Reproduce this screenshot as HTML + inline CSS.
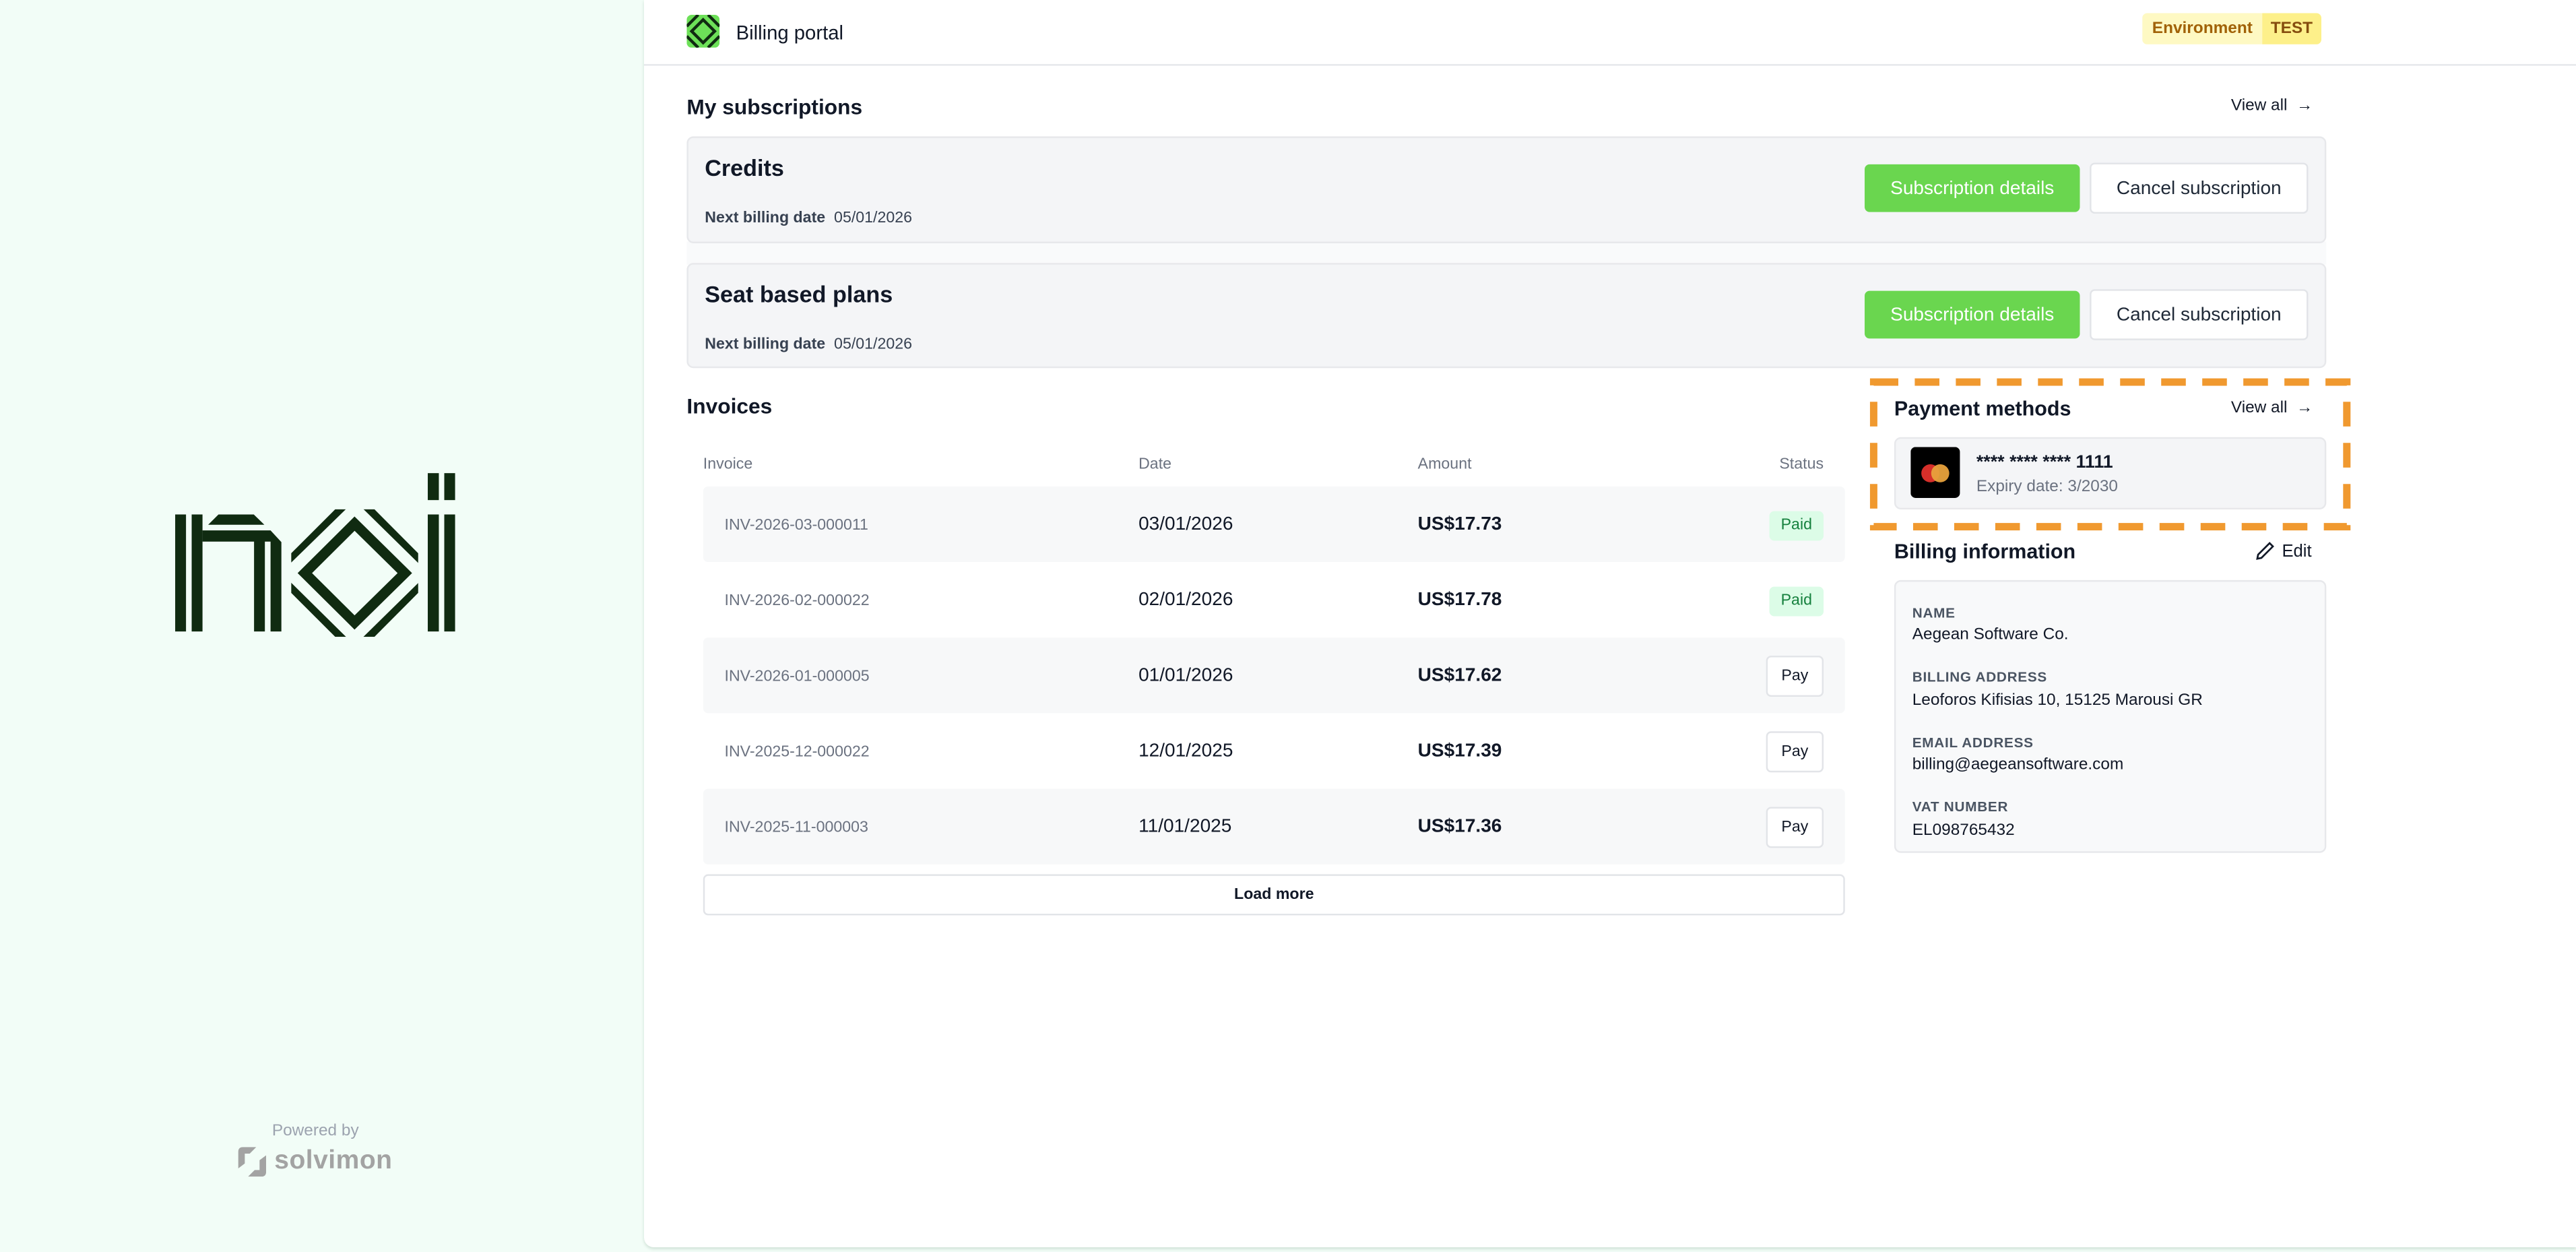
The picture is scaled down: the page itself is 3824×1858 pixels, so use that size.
<!DOCTYPE html>
<html><head><meta charset="utf-8"><style>
html,body{margin:0;padding:0;width:3824px;height:1858px;overflow:hidden;background:#f2fdf7;font-family:"Liberation Sans",sans-serif;color:#111827}
#root{position:absolute;left:0;top:0;width:1568px;height:762px;transform:scale(2.43878);transform-origin:0 0}
.a{position:absolute;white-space:nowrap}
.t{position:absolute;white-space:nowrap;line-height:1;transform:translateY(-50%)}
.card{position:absolute;background:#f4f5f7;border:1px solid #e7e8eb;border-radius:4px;box-sizing:border-box}
.btn-g{position:absolute;background:#6ad64f;color:#fff;border-radius:3px;font-size:11.5px;font-weight:500;display:flex;align-items:center;justify-content:center}
.btn-w{position:absolute;background:#fff;color:#1f2937;border:1px solid #e2e4e8;border-radius:3px;font-size:11.5px;display:flex;align-items:center;justify-content:center;box-sizing:border-box}
.lbl{font-size:8.5px;font-weight:700;color:#4b5563;letter-spacing:.3px}
.val{font-size:10px;color:#111827}
</style></head><body>
<div id="root">
  <svg class="a" style="left:82px;top:266.5px" width="246" height="143.5" viewBox="0 0 1568 1050" preserveAspectRatio="none">
    <defs><clipPath id="oc"><polygon points="607,510 778,314 930,314 1100,510 1100,686 930,882 778,882 607,686"/></clipPath></defs>
    <g fill="#102b11">
      <rect x="157" y="337" width="42" height="521"/>
      <rect x="221" y="337" width="42" height="521"/>
      <polygon points="285,383 325,337 462,337 503,383"/>
      <path d="M263 408 H527 L569 460 V858 H527 V458 H505 V858 H463 V458 H263 Z"/>
      <rect x="1137" y="153" width="43" height="120"/>
      <rect x="1201" y="153" width="42" height="120"/>
      <rect x="1137" y="337" width="43" height="521"/>
      <rect x="1201" y="337" width="42" height="521"/>
    </g>
    <g clip-path="url(#oc)" stroke="#102b11" fill="none">
      <path d="M660 598 L853 378 L1048 598 L853 818 Z" stroke-width="42" stroke-linejoin="miter"/>
      <line x1="590" y1="545" x2="822" y2="285" stroke-width="34"/>
      <line x1="885" y1="285" x2="1120" y2="550" stroke-width="34"/>
      <line x1="588" y1="645" x2="822" y2="910" stroke-width="34"/>
      <line x1="1120" y1="645" x2="885" y2="910" stroke-width="34"/>
    </g>
  </svg>
  <div class="t" style="left:192px;top:689px;transform:translate(-50%,-50%);font-size:10px;color:#9ca3af">Powered by</div>
  <div class="a" style="left:145px;top:698px;display:flex;align-items:center;gap:5px">
    <svg width="17" height="18" viewBox="0 0 17 18"><path d="M0 3 Q0 0 3 0 H11 L7 4 H4 V10 L0 13 Z M17 15 Q17 18 14 18 H6 L10 14 H13 V8 L17 5 Z" fill="#a3a3a3"/></svg>
    <span style="font-size:16px;font-weight:700;color:#a3a3a3;letter-spacing:.2px">solvimon</span>
  </div>

  <div class="a" style="left:392px;top:0;width:1176px;height:759px;background:#fff;border-bottom-left-radius:6px;box-shadow:0 1px 2px rgba(0,60,30,.15)"></div>
  <div class="a" style="left:392px;top:38.5px;width:1176px;height:1px;background:#e5e7eb"></div>
  <svg class="a" style="left:418px;top:9px" width="20" height="20" viewBox="0 0 20 20"><rect width="20" height="20" rx="3" fill="#6de058"/><g stroke="#102b11" stroke-width="1.8" fill="none"><path d="M10 3 L17 10 L10 17 L3 10 Z"/><path d="M7 0 L0 7 M13 0 L20 7 M0 13 L7 20 M20 13 L13 20"/></g></svg>
  <div class="t" style="left:448px;top:19.5px;font-size:12px">Billing portal</div>
  <div class="a" style="left:1304px;top:8px;height:19px;display:flex;border-radius:3px;overflow:hidden;font-size:10px;font-weight:700;color:#a16207;line-height:19px">
    <span style="background:#fef9c3;padding:0 6px">Environment</span><span style="background:#fdf08a;padding:0 5px;color:#854d0e">TEST</span>
  </div>

  <div class="t" style="left:418px;top:65px;font-size:13px;font-weight:700">My subscriptions</div>
  <div class="t" style="left:1358px;top:65px;font-size:10px">View all &nbsp;→</div>

  <div class="a" style="left:418px;top:147px;width:998px;height:14px;background:#f9fafb"></div>
  <div class="card" style="left:418px;top:83px;width:998px;height:65px"></div>
  <div class="t" style="left:429px;top:102px;font-size:14px;font-weight:700">Credits</div>
  <div class="t" style="left:429px;top:132.5px;font-size:9.5px;color:#374151"><b>Next billing date</b>&nbsp; 05/01/2026</div>
  <div class="btn-g" style="left:1135px;top:100px;width:131px;height:29px">Subscription details</div>
  <div class="btn-w" style="left:1272px;top:99px;width:133px;height:31px">Cancel subscription</div>

  <div class="card" style="left:418px;top:160px;width:998px;height:64px"></div>
  <div class="t" style="left:429px;top:179px;font-size:14px;font-weight:700">Seat based plans</div>
  <div class="t" style="left:429px;top:210px;font-size:9.5px;color:#374151"><b>Next billing date</b>&nbsp; 05/01/2026</div>
  <div class="btn-g" style="left:1135px;top:177px;width:131px;height:29px">Subscription details</div>
  <div class="btn-w" style="left:1272px;top:176px;width:133px;height:31px">Cancel subscription</div>

  <div class="t" style="left:418px;top:247px;font-size:13px;font-weight:700">Invoices</div>
  <div class="t" style="left:428px;top:283px;font-size:9.5px;color:#6b7280">Invoice</div>
  <div class="t" style="left:693px;top:283px;font-size:9.5px;color:#6b7280">Date</div>
  <div class="t" style="left:863px;top:283px;font-size:9.5px;color:#6b7280">Amount</div>
  <div class="t" style="right:458px;top:283px;font-size:9.5px;color:#6b7280">Status</div>
  <div id="rows"></div>
  <div class="btn-w" style="left:428px;top:532px;width:695px;height:25px;font-size:9.5px;font-weight:700;color:#111827">Load more</div>

  <svg class="a" style="left:1138px;top:230px" width="294" height="94"><rect x="2.5" y="2.5" width="288" height="88" fill="none" stroke="#f0992f" stroke-width="4.5" stroke-dasharray="15 10"/></svg>
  <div class="t" style="left:1153px;top:248.5px;font-size:12.5px;font-weight:700">Payment methods</div>
  <div class="t" style="left:1358px;top:248.5px;font-size:10px">View all &nbsp;→</div>
  <div class="card" style="left:1153px;top:266px;width:263px;height:44px"></div>
  <svg class="a" style="left:1163px;top:272px" width="30" height="31" viewBox="0 0 30 31"><rect width="30" height="31" rx="3" fill="#000"/><circle cx="12" cy="16" r="5.5" fill="#d62f2a"/><circle cx="18" cy="16" r="5.5" fill="#e8a23c" opacity=".95"/></svg>
  <div class="t" style="left:1203px;top:282px;font-size:11px;font-weight:700">**** **** **** 1111</div>
  <div class="t" style="left:1203px;top:297px;font-size:10px;color:#6b7280">Expiry date: 3/2030</div>

  <div class="t" style="left:1153px;top:335.5px;font-size:12.5px;font-weight:700">Billing information</div>
  <svg class="a" style="left:1373px;top:329px" width="12" height="12" viewBox="0 0 12 12"><path d="M1 11 L1.5 8.5 L8.5 1.5 L10.5 3.5 L3.5 10.5 Z" fill="none" stroke="#111827" stroke-width="1.1"/></svg>
  <div class="t" style="left:1389px;top:335.5px;font-size:10.5px">Edit</div>
  <div class="card" style="left:1153px;top:353px;width:263px;height:166px;background:#f8f9fa"></div>
  <div class="t lbl" style="left:1164px;top:372.5px">NAME</div>
  <div class="t val" style="left:1164px;top:387px">Aegean Software Co.</div>
  <div class="t lbl" style="left:1164px;top:412px">BILLING ADDRESS</div>
  <div class="t val" style="left:1164px;top:426.5px">Leoforos Kifisias 10, 15125 Marousi GR</div>
  <div class="t lbl" style="left:1164px;top:451.5px">EMAIL ADDRESS</div>
  <div class="t val" style="left:1164px;top:466px">billing@aegeansoftware.com</div>
  <div class="t lbl" style="left:1164px;top:491px">VAT NUMBER</div>
  <div class="t val" style="left:1164px;top:505.5px">EL098765432</div>
</div>
<script>
const invoiceIds=["INV-2026-03-000011","INV-2026-02-000022","INV-2026-01-000005","INV-2025-12-000022","INV-2025-11-000003"];
const invoiceDates=["03/01/2026","02/01/2026","01/01/2026","12/01/2025","11/01/2025"];
const invoiceAmounts=["US$17.73","US$17.78","US$17.62","US$17.39","US$17.36"];
const invoiceStatus=["Paid","Paid","Pay","Pay","Pay"];
const rows=document.getElementById('rows');
invoiceIds.forEach((id,i)=>{
  const top=296+i*46;
  const r=document.createElement('div');
  r.className='a';
  r.style.cssText=`left:428px;top:${top}px;width:695px;height:46px;border-radius:3px;background:${i%2===0?'#f7f8f9':'#fff'}`;
  
  
  const c=top+23.5;
  rows.appendChild(r);
  const mk=(left,txt,style,name,inter)=>{
    const e=document.createElement('div');
    e.className='t';
    e.style.cssText=`left:${left}px;top:${c}px;`+style;
    e.textContent=txt;
    
    
    rows.appendChild(e);
  };
  mk(441,id,'font-size:9.5px;color:#6b7280','invoice-id','false');
  mk(693,invoiceDates[i],'font-size:11.5px;color:#111827','invoice-date','false');
  mk(863,invoiceAmounts[i],'font-size:11.5px;font-weight:700;color:#111827','invoice-amount','false');
  const s=document.createElement('div');
  s.className='a';
  if(invoiceStatus[i]==='Paid'){
    s.style.cssText=`left:1077px;top:${c-9}px;width:33px;height:18px;background:#dcfce7;color:#15803d;border-radius:3px;font-size:9.5px;display:flex;align-items:center;justify-content:center`;
    
    
  } else {
    s.style.cssText=`left:1075px;top:${c-12.5}px;width:35px;height:25px;background:#fff;border:1px solid #e2e4e8;box-sizing:border-box;border-radius:3px;font-size:9.5px;display:flex;align-items:center;justify-content:center;color:#111827`;
    
    
  }
  s.textContent=invoiceStatus[i];
  rows.appendChild(s);
});
</script>
</body></html>
